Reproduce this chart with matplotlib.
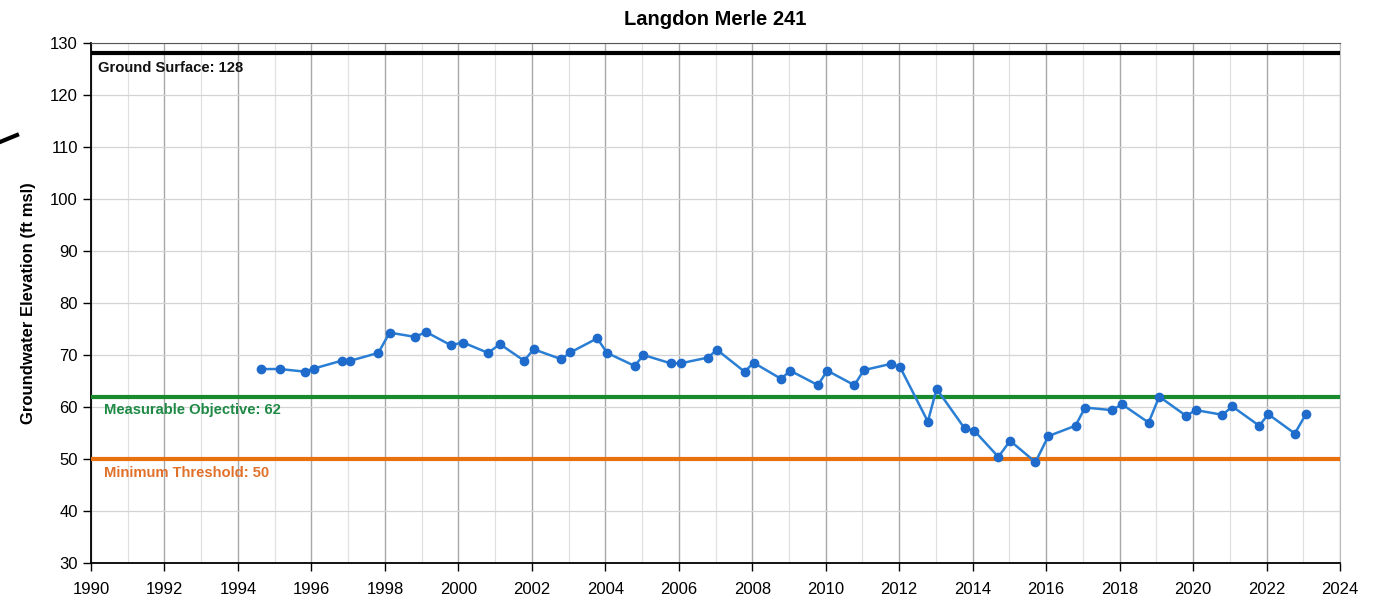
import matplotlib.pyplot as plt
from matplotlib.ticker import MultipleLocator
from matplotlib.lines import Line2D

plt.rcParams['font.family'] = ['Liberation Sans', 'DejaVu Sans']

# measurement dates (decimal year) and groundwater elevation (ft msl)
dates = [1994.64, 1995.14, 1995.82, 1996.07, 1996.82, 1997.06, 1997.82, 1998.13,
         1998.81, 1999.13, 1999.79, 2000.13, 2000.81, 2001.13, 2001.79, 2002.05,
         2002.80, 2003.05, 2003.78, 2004.05, 2004.80, 2005.04, 2005.78, 2006.05,
         2006.79, 2007.04, 2007.79, 2008.04, 2008.79, 2009.03, 2009.79, 2010.04,
         2010.78, 2011.04, 2011.78, 2012.03, 2012.78, 2013.02, 2013.78, 2014.05,
         2014.70, 2015.02, 2015.71, 2016.06, 2016.80, 2017.06, 2017.78, 2018.07,
         2018.79, 2019.08, 2019.81, 2020.08, 2020.80, 2021.07, 2021.80, 2022.05,
         2022.77, 2023.07]
elevation = [67.3, 67.3, 66.8, 67.4, 68.9, 68.9, 70.4, 74.3,
             73.5, 74.4, 71.9, 72.4, 70.4, 72.1, 68.9, 71.1,
             69.2, 70.5, 73.2, 70.4, 67.9, 70.0, 68.4, 68.4,
             69.5, 71.0, 66.8, 68.5, 65.4, 67.0, 64.2, 67.0,
             64.2, 67.1, 68.3, 67.6, 57.2, 63.5, 55.9, 55.4,
             50.4, 53.5, 49.4, 54.4, 56.4, 59.9, 59.4, 60.5,
             57.0, 62.0, 58.3, 59.4, 58.5, 60.1, 56.4, 58.6,
             54.9, 58.6]

ground_surface = 128
measurable_objective = 62
minimum_threshold = 50

fig = plt.figure(figsize=(13.8, 6.02), dpi=100)
ax = fig.add_axes([91 / 1380, 1 - 563 / 602, (1340 - 91) / 1380, (563 - 43) / 602])

ax.set_xlim(1990, 2024)
ax.set_ylim(30, 130)
ax.xaxis.set_major_locator(MultipleLocator(2))
ax.xaxis.set_minor_locator(MultipleLocator(1))
ax.yaxis.set_major_locator(MultipleLocator(10))

ax.grid(which='major', axis='x', color='#a8a8a8', linewidth=1.0)
ax.grid(which='minor', axis='x', color='#e0e0e0', linewidth=0.9)
ax.grid(which='major', axis='y', color='#d4d4d4', linewidth=0.9)
ax.set_axisbelow(True)

for side in ['left', 'bottom']:
    ax.spines[side].set_color('black')
    ax.spines[side].set_linewidth(1.3)
ax.spines['top'].set_color('#555555')
ax.spines['right'].set_color('#bbbbbb')

ax.tick_params(axis='both', which='major', direction='out', length=6, width=1,
               labelsize=12, colors='black')
ax.tick_params(axis='x', which='minor', length=0)
ax.tick_params(axis='x', pad=8)

ax.axhline(ground_surface, color='black', linewidth=3, zorder=3)
ax.axhline(measurable_objective, color='#1a8a2e', linewidth=3, zorder=3)
ax.axhline(minimum_threshold, color='#e8700f', linewidth=3, zorder=3)

ax.text(1990.2, ground_surface - 1.5, 'Ground Surface: 128', fontsize=10.6,
        fontweight='bold', color='#111111', va='top', ha='left')
ax.text(1990.35, measurable_objective - 1.3, 'Measurable Objective: 62', fontsize=10.6,
        fontweight='bold', color='#1f8a45', va='top', ha='left')
ax.text(1990.35, minimum_threshold - 1.3, 'Minimum Threshold: 50', fontsize=10.6,
        fontweight='bold', color='#e0702a', va='top', ha='left')

ax.plot(dates, elevation, color='#2a7fd4', linewidth=1.8, marker='o',
        markersize=6, markerfacecolor='#1e6bcc', markeredgecolor='#1e6bcc', zorder=4)

ax.set_title('Langdon Merle 241', fontsize=14.5, fontweight='bold', pad=13)
ax.set_ylabel('Groundwater Elevation (ft msl)', fontsize=12, fontweight='bold', labelpad=10)

# stray pen mark at the left edge of the scanned page
fig.add_artist(Line2D([0 / 1380, 17 / 1380], [1 - 142 / 602, 1 - 135 / 602],
                      color='black', linewidth=3, transform=fig.transFigure))

fig.savefig('out.png', dpi=100)
